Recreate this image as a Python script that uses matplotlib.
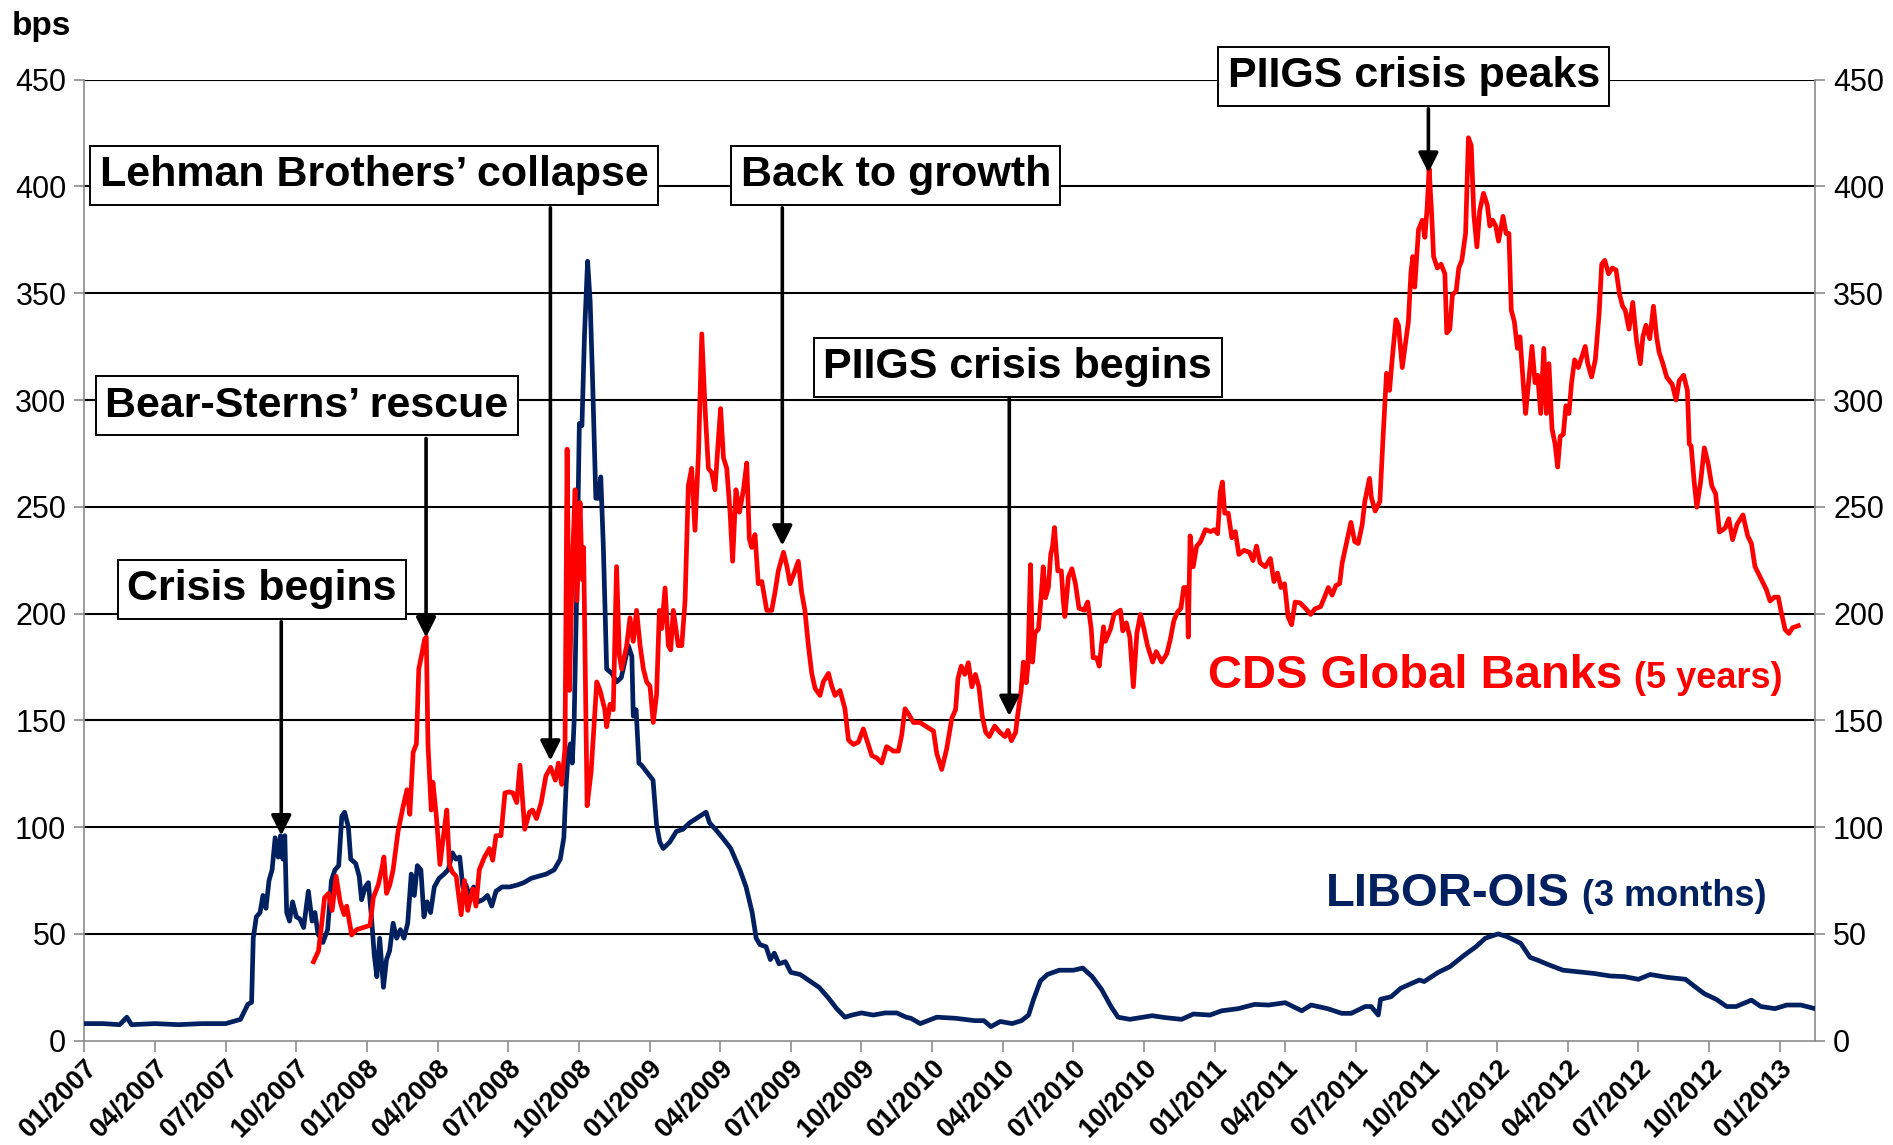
import matplotlib
matplotlib.use("Agg")
from matplotlib import pyplot as plt

# months since 01/2007
libor_months = [0, 0.8, 1.5, 1.8, 2.0, 3.0, 4.0, 5.0, 6.0, 6.63, 6.76, 6.94, 7.10, 7.17, 7.30, 7.46,
                7.58, 7.71, 7.84, 7.97, 8.10, 8.23, 8.33, 8.43, 8.51, 8.59, 8.71, 8.84, 9.0, 9.15,
                9.31, 9.51, 9.67, 9.79, 9.92, 10.13, 10.33, 10.49, 10.64, 10.80, 10.93, 11.05, 11.21,
                11.31, 11.52, 11.67, 11.77, 11.93, 12.06, 12.19, 12.31, 12.42, 12.54, 12.70, 12.83,
                12.96, 13.11, 13.26, 13.42, 13.57, 13.73, 13.88, 14.01, 14.14, 14.29, 14.42, 14.55,
                14.70, 14.86, 15.06, 15.27, 15.45, 15.63, 15.78, 15.94, 16.07, 16.20, 16.35, 16.53,
                16.71, 16.92, 17.12, 17.30, 17.48, 17.74, 18.07, 18.41, 18.66, 18.97, 19.28, 19.61,
                19.95, 20.21, 20.36, 20.46, 20.55, 20.64, 20.72, 20.80, 20.90, 21.02, 21.13, 21.24,
                21.37, 21.48, 21.58, 21.72, 21.83, 21.93, 22.04, 22.18, 22.40, 22.60, 22.80, 23.10,
                23.25, 23.31, 23.43, 23.55, 23.66, 23.87, 24.15, 24.30, 24.44, 24.58, 24.86, 25.14,
                25.42, 25.70, 26.12, 26.40, 26.55, 26.80, 27.10, 27.45, 27.84, 28.10, 28.36, 28.53,
                28.69, 28.95, 29.13, 29.30, 29.50, 29.77, 30.00, 30.40, 30.80, 31.20, 31.60, 31.95,
                32.30, 32.60, 33.00, 33.50, 34.00, 34.50, 34.90, 35.10, 35.50, 36.20, 37.00, 37.80,
                38.20, 38.50, 38.90, 39.40, 39.80, 40.10, 40.30, 40.60, 40.90, 41.40, 42.00, 42.40,
                42.80, 43.20, 43.60, 43.90, 44.40, 44.95, 45.35, 45.90, 46.60, 47.10, 47.80, 48.30,
                49.00, 49.70, 50.30, 51.00, 51.70, 52.10, 52.80, 53.40, 53.80, 54.40, 54.65, 54.95,
                55.05, 55.50, 55.90, 56.40, 56.70, 56.90, 57.50, 58.00, 58.60, 59.10, 59.50, 60.04,
                60.40, 61.00, 61.40, 61.70, 62.20, 62.80, 63.40, 64.10, 64.80, 65.40, 66.00, 66.50,
                67.20, 68.00, 68.40, 68.80, 69.30, 69.75, 70.15, 70.80, 71.20, 71.80, 72.30, 72.90,
                73.50]
libor_bps = [8, 8, 7.5, 11, 7.5, 8, 7.5, 8, 8, 10, 13, 17, 18, 48, 58, 60,
             68, 62, 75, 80, 95, 86, 96, 85, 96, 60, 56, 65, 58, 57,
             53, 70, 56, 60, 50, 46, 52, 75, 80, 82, 105, 107, 100,
             85, 83, 77, 66, 72, 74, 58, 40, 30, 48, 25, 38,
             42, 55, 48, 52, 48, 55, 78, 68, 82, 80, 58, 65,
             60, 72, 76, 78, 80, 88, 85, 86, 72, 73, 68, 72,
             65, 66, 68, 63, 70, 72, 72, 73, 74, 76, 77, 78,
             80, 85, 95, 120, 135, 139, 130, 150, 206, 289, 288, 331,
             365, 346, 310, 254, 254, 264, 231, 174, 172, 168, 170, 185,
             180, 152, 155, 130, 129, 126, 122, 101, 93, 90, 93, 98,
             99, 102, 105, 107, 102, 99, 95, 90, 80, 72, 60, 48,
             45, 44, 38, 41, 36, 37, 32, 31, 28, 25, 20, 15,
             11, 12, 13, 12, 13, 13, 11, 10.5, 8, 11, 10.5, 9.4,
             9.4, 6.6, 9, 8, 9.4, 12, 19, 28, 31, 33, 33, 34,
             30, 24, 16, 11, 10, 11, 11.7, 10.8, 10, 12.5, 12, 14,
             15, 17, 16.7, 17.8, 14, 16.7, 15, 12.8, 12.8, 16, 16, 12,
             19.4, 20.6, 24.5, 27, 28.4, 27.7, 32, 34.7, 40, 44, 48, 50,
             48.8, 45.6, 39, 37.8, 35.5, 33, 32.3, 31.5, 30.3, 30, 28.75, 31,
             29.7, 28.75, 25.3, 22, 19.4, 16, 16, 19, 16, 15, 16.7, 16.7,
             15]

cds_months = [9.73, 9.94, 10.08, 10.2, 10.37, 10.52, 10.69, 10.86, 11.03, 11.14, 11.35, 11.56,
              11.85, 12.13, 12.27, 12.48, 12.62, 12.72, 12.83, 12.97, 13.11, 13.32, 13.54, 13.70,
              13.82, 13.96, 14.10, 14.20, 14.31, 14.45, 14.52, 14.59, 14.73, 14.80, 14.94, 15.10,
              15.25, 15.39, 15.50, 15.62, 15.79, 16.00, 16.14, 16.28, 16.49, 16.63, 16.77, 16.99,
              17.20, 17.34, 17.48, 17.69, 17.86, 18.04, 18.20, 18.36, 18.50, 18.70, 18.90, 19.03,
              19.20, 19.40, 19.60, 19.80, 20.00, 20.13, 20.27, 20.41, 20.50, 20.60, 20.72, 20.84,
              20.92, 21.05, 21.14, 21.20, 21.35, 21.52, 21.76, 21.90, 22.10, 22.18, 22.32, 22.46,
              22.60, 22.72, 22.82, 23.03, 23.17, 23.31, 23.45, 23.60, 23.74, 23.88, 24.02, 24.16,
              24.30, 24.42, 24.52, 24.66, 24.80, 24.90, 25.01, 25.22, 25.37, 25.51, 25.65, 25.79,
              25.93, 26.08, 26.22, 26.36, 26.50, 26.64, 26.78, 26.92, 27.02, 27.14, 27.28, 27.42,
              27.53, 27.67, 27.82, 27.99, 28.13, 28.24, 28.34, 28.48, 28.62, 28.77, 28.98, 29.19,
              29.33, 29.47, 29.69, 29.83, 29.97, 30.11, 30.32, 30.46, 30.60, 30.75, 30.89, 31.03,
              31.24, 31.38, 31.60, 31.74, 31.88, 32.09, 32.30, 32.45, 32.66, 32.87, 33.08, 33.23,
              33.44, 33.65, 33.86, 34.07, 34.36, 34.57, 34.71, 34.85, 35.00, 35.21, 35.49, 35.77,
              36.06, 36.20, 36.41, 36.62, 36.84, 37.00, 37.10, 37.24, 37.39, 37.54, 37.69, 37.84,
              37.99, 38.13, 38.28, 38.43, 38.66, 38.88, 39.10, 39.22, 39.37, 39.55, 39.63, 39.78,
              39.88, 40.00, 40.07, 40.18, 40.27, 40.37, 40.52, 40.63, 40.72, 40.82, 40.94, 41.04,
              41.12, 41.20, 41.27, 41.34, 41.49, 41.57, 41.64, 41.79, 41.94, 42.09, 42.24, 42.46,
              42.61, 42.76, 42.84, 42.99, 43.10, 43.28, 43.36, 43.58, 43.73, 44.00, 44.10, 44.25,
              44.40, 44.55, 44.70, 44.85, 45.00, 45.15, 45.37, 45.52, 45.75, 45.97, 46.12, 46.27,
              46.42, 46.57, 46.69, 46.84, 46.88, 46.96, 47.09, 47.24, 47.39, 47.61, 47.84, 47.99,
              48.13, 48.24, 48.33, 48.43, 48.58, 48.73, 48.88, 49.03, 49.25, 49.48, 49.63, 49.78,
              49.93, 50.15, 50.37, 50.52, 50.67, 50.82, 50.97, 51.12, 51.27, 51.42, 51.63, 51.87,
              52.08, 52.27, 52.50, 52.67, 52.83, 52.99, 53.15, 53.31, 53.42, 53.63, 53.79, 53.95,
              54.10, 54.27, 54.38, 54.58, 54.66, 54.82, 55.02, 55.14, 55.30, 55.43, 55.54, 55.70,
              55.81, 55.97, 56.10, 56.23, 56.34, 56.42, 56.50, 56.66, 56.82, 56.93, 57.03, 57.11,
              57.22, 57.30, 57.46, 57.62, 57.78, 57.86, 57.99, 58.10, 58.26, 58.37, 58.50, 58.66,
              58.78, 58.90, 59.01, 59.14, 59.26, 59.42, 59.58, 59.69, 59.81, 59.94, 60.06, 60.25,
              60.38, 60.50, 60.60, 60.73, 60.86, 60.97, 61.13, 61.21, 61.32, 61.48, 61.61, 61.72,
              61.85, 61.98, 62.09, 62.20, 62.33, 62.46, 62.57, 62.68, 62.81, 62.92, 63.05, 63.16,
              63.29, 63.45, 63.61, 63.74, 63.85, 64.01, 64.17, 64.33, 64.44, 64.57, 64.73, 64.89,
              65.05, 65.20, 65.33, 65.44, 65.60, 65.76, 65.92, 66.08, 66.19, 66.32, 66.48, 66.64,
              66.77, 66.88, 67.04, 67.20, 67.44, 67.60, 67.73, 67.92, 68.08, 68.16, 68.24, 68.37,
              68.48, 68.64, 68.80, 68.96, 69.12, 69.28, 69.44, 69.68, 69.84, 70.00, 70.19, 70.44,
              70.64, 70.80, 70.95, 71.11, 71.27, 71.43, 71.59, 71.78, 71.94, 72.07, 72.23, 72.39,
              72.55, 72.79]
cds_bps = [37, 42, 55, 67, 69, 61, 77, 65, 59, 63, 49.5, 52,
           53, 54, 67, 73, 80, 86, 69, 73, 80, 98, 110, 117.5,
           106, 135, 139, 174, 180, 188, 189, 139, 108, 121, 106, 82.5,
           96, 108, 82.5, 79, 77, 59, 75, 61, 71, 63, 80, 86,
           90, 84.5, 96, 96, 116, 116.5, 116, 111.5, 129, 99, 107, 108,
           104, 111.5, 124, 128, 122, 130, 120, 137, 277, 164, 222, 258,
           206, 252, 216, 231, 110, 126, 168, 164, 155, 147, 157.5, 155,
           222, 180.5, 174, 185, 198, 187, 201.5, 185, 174, 168, 166, 149,
           162, 201.5, 193, 212, 185, 183, 201.5, 185, 185, 206, 260, 268,
           239, 275, 331, 296, 268, 266, 258, 281, 296, 273, 268, 247.5,
           224.5, 258, 247.5, 258, 270.5, 235, 231, 237, 214, 215, 201.5, 201.5,
           210, 220, 228.7, 222.4, 214, 218, 224.5, 210, 201.5, 184.7, 172, 165,
           161.7, 168, 172, 166, 161.7, 164, 155.4, 140.8, 138.7, 139.8, 146, 140.8,
           133.5, 132.4, 130, 137.7, 135.6, 135.6, 143, 155.4, 153, 149, 149, 147,
           145, 134.5, 127, 136.6, 151, 155, 169.6, 175.4, 171.5, 177, 165.7, 171.5,
           165.7, 152, 144.4, 142.4, 147.3, 144.4, 142.4, 145.3, 140.5, 144.4, 152, 163.8,
           177.3, 167.6, 175.4, 222.9, 177.3, 190.9, 192.8, 207.4, 221.9, 207.4, 212.2, 227.7,
           231.6, 240.3, 229.6, 220, 220, 206.4, 198.6, 217, 221, 214, 202.5, 201.6,
           205.4, 192.8, 179.3, 179.3, 175.4, 193.8, 187, 192.8, 199.6, 201.6, 191.9, 195.7,
           189, 165.7, 190.9, 199.6, 192.8, 185, 177.3, 182.2, 177.3, 181.2, 188, 196.7,
           200.6, 202.5, 212.2, 212.2, 189, 236.4, 221.9, 231.6, 233.5, 239.3, 238.4, 239.3,
           237.4, 256.8, 261.6, 247, 247, 235.5, 238.4, 227.7, 229.6, 228.7, 224.8, 231.6,
           223.8, 221.9, 225.8, 215, 219, 212.2, 214, 198.6, 194.8, 205.4, 205, 202.3,
           199.6, 202.3, 203.2, 207.7, 212.2, 208.6, 213.1, 214, 223.8, 234.6, 242.7, 233.7,
           232.8, 241.8, 252.5, 263.3, 254.3, 248, 252.5, 279.4, 312.5, 304.5, 318.8, 337.6,
           335, 315.2, 326, 336.7, 360, 367.2, 352.9, 379.7, 384.2, 376.2, 390.5, 408.4,
           386.9, 367.2, 361.8, 363.6, 359.1, 331.4, 333.2, 349.3, 351.1, 361.8, 365.4, 378,
           422.8, 419.2, 386.9, 371.7, 388.7, 396.8, 391.4, 381.5, 384.2, 381.5, 374.4, 386,
           378, 378, 342.1, 336.7, 324.2, 329.6, 304.5, 293.7, 306.3, 325.1, 308.1, 311.6,
           293.7, 324.2, 293.7, 317, 286.6, 279.4, 268.6, 283, 283.9, 297.3, 293.7, 308.1,
           318.8, 315.2, 320.6, 325.1, 317, 310.8, 318.8, 340.3, 363.6, 365.4, 359.1, 361.8,
           360.9, 349.3, 343.9, 342.1, 333.2, 345.7, 327.8, 317, 329.6, 335, 328.7, 343.9,
           329.6, 322.4, 317, 310.8, 307.2, 300, 309, 311.6, 304.5, 279.4, 278.5, 261.5,
           249.8, 261.5, 277.6, 270.4, 259.7, 256.1, 238.2, 240, 244.4, 234.6, 241.8, 246.2,
           236.4, 232.8, 222, 218.5, 214.9, 211.3, 205.9, 207.7, 207.7, 200.5, 192.5, 190.7,
           193.4, 194.3]

tick_months = list(range(0, 73, 3))
tick_labels = ["01/2007", "04/2007", "07/2007", "10/2007", "01/2008", "04/2008", "07/2008",
               "10/2008", "01/2009", "04/2009", "07/2009", "10/2009", "01/2010", "04/2010",
               "07/2010", "10/2010", "01/2011", "04/2011", "07/2011", "10/2011", "01/2012",
               "04/2012", "07/2012", "10/2012", "01/2013"]
y_ticks = list(range(0, 451, 50))

# events: label, box centre (month, bps), arrow month, arrow from, arrow to
events = [
    ("Crisis begins", 7.54, 211.4, 8.36, 196.2, 96.1),
    ("Bear-Sterns\u2019 rescue", 9.44, 297.3, 14.51, 282.0, 188.8),
    ("Lehman Brothers\u2019 collapse", 12.31, 405.3, 19.79, 390.0, 131.1),
    ("Back to growth", 34.46, 405.3, 29.64, 390.0, 231.8),
    ("PIIGS crisis begins", 39.64, 315.4, 39.28, 300.7, 152.0),
    ("PIIGS crisis peaks", 56.46, 451.7, 57.08, 436.4, 406.4),
]

navy = "#002060"
red = "#FF0000"
grey = "#8C8C8C"
plt.rcParams['font.family'] = ['Liberation Sans', 'DejaVu Sans']

fig = plt.figure(figsize=(18.93, 11.45), dpi=100)
ax = fig.add_axes([0.0446, 0.0911, 0.9142, 0.8393])

for v in y_ticks[1:]:
    ax.axhline(v, color="black", lw=1.5, zorder=1)

ax.plot(libor_months, libor_bps, color=navy, lw=3.4, zorder=3, solid_joinstyle="round")
ax.plot(cds_months, cds_bps, color=red, lw=3.4, zorder=4, solid_joinstyle="round")

ax.set_xlim(0, 73.5)
ax.set_ylim(0, 450)
ax.set_yticks(y_ticks)
ax.set_xticks(tick_months)
ax.set_xticklabels(tick_labels, rotation=45, ha="right", va="top", rotation_mode="anchor",
                   fontsize=19.5, fontweight="bold")
ax.tick_params(axis="y", which="both", left=True, right=True, labelleft=True, labelright=True,
               direction="out", length=7, width=1.2, color=grey, labelsize=22, pad=6)
ax.tick_params(axis="x", direction="out", length=8, width=1.2, color=grey, pad=2)
for t in ax.yaxis.get_major_ticks():
    t.label1.set_fontfamily(['Liberation Sans Narrow', 'Liberation Sans'])
    t.label2.set_fontfamily(['Liberation Sans Narrow', 'Liberation Sans'])

ax.spines["top"].set_visible(False)
for s in ("left", "right", "bottom"):
    ax.spines[s].set_color(grey)
    ax.spines[s].set_linewidth(1.2)

for label, bx, by, amx, ay0, ay1 in events:
    ax.text(bx, by, label, ha="center", va="center", fontsize=31, fontweight="bold",
            zorder=6, clip_on=False,
            bbox=dict(boxstyle="square,pad=0.22", fc="white", ec="black", lw=1.4))
    ax.annotate("", xy=(amx, ay1), xytext=(amx, ay0), zorder=5,
                arrowprops=dict(arrowstyle="-|>,head_length=0.8,head_width=0.4",
                                mutation_scale=15, color="black", lw=2.6,
                                shrinkA=0, shrinkB=0))

ax.text(65.3, 165, "CDS Global Banks", color=red, fontsize=34, fontweight="bold",
        ha="right", va="baseline", zorder=6)
ax.text(65.8, 165, "(5 years)", color=red, fontsize=26, fontweight="bold",
        ha="left", va="baseline", zorder=6)
ax.text(63.08, 63.3, "LIBOR-OIS", color=navy, fontsize=34, fontweight="bold",
        ha="right", va="baseline", zorder=6)
ax.text(63.6, 63.3, "(3 months)", color=navy, fontsize=26, fontweight="bold",
        ha="left", va="baseline", zorder=6)

fig.text(0.0063, 0.99, "bps", fontsize=24, fontweight="bold", ha="left", va="top")

fig.savefig("out.png", dpi=100)
